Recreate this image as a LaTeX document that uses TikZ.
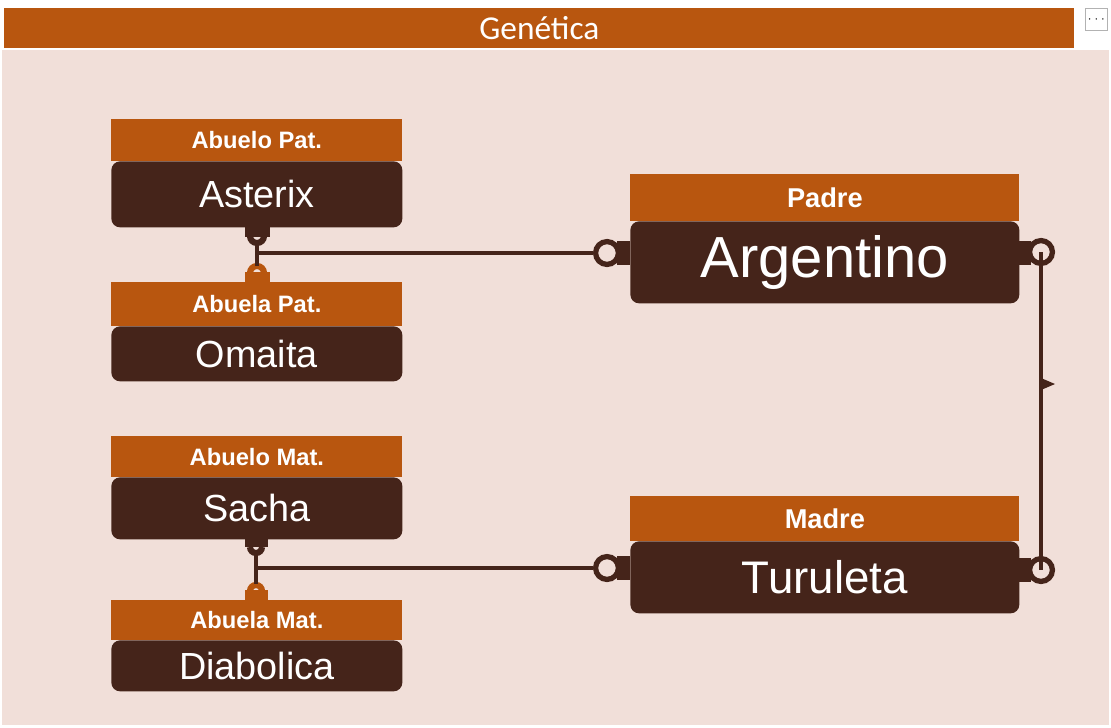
\documentclass[tikz,border=0pt]{standalone}
\usepackage{fontspec}
\setmainfont{Liberation Sans}
\newfontfamily\titlefont{Carlito}
\usetikzlibrary{arrows.meta}
\definecolor{Bg}{HTML}{F1DFD9}
\definecolor{Rust}{HTML}{B8560F}
\definecolor{Bark}{HTML}{45241A}
\tikzset{
  head/.style={fill=Rust, text=white, font=\bfseries\fontsize{13.5}{15}\selectfont, inner sep=0pt, anchor=north west},
  body/.style={fill=Bark, text=white, rounded corners=5pt, inner sep=0pt, anchor=north west},
  link/.style={draw=Bark, line width=2pt},
  ring/.style={draw=Bark, line width=3pt, fill=Bg, circle, minimum size=13pt, inner sep=0pt},
}
\begin{document}
\begin{tikzpicture}[x=0.02cm, y=-0.02cm]
  \useasboundingbox (0,0) rectangle (1111,727);
  \fill[white] (0,0) rectangle (1111,727);
  \fill[Bg] (2,50) rectangle (1109,725);
  \node[fill=Rust, text=white, font=\titlefont\fontsize{19}{22}\selectfont, minimum width=1070*0.02cm, minimum height=40*0.02cm, inner sep=0pt, anchor=north west] (title) at (4,8) {Genética};
  \node[draw=gray!60, fill=white, minimum width=22*0.02cm, minimum height=22*0.02cm, inner sep=0pt, anchor=north west, font=\scriptsize] (menu) at (1085,8) {$\cdots$};

  % abuelos paternos
  \node[body, minimum width=291*0.02cm, minimum height=66*0.02cm, font=\fontsize{21.5}{25}\selectfont] (asterix) at (111,161) {Asterix};
  \node[head, minimum width=291*0.02cm, minimum height=42*0.02cm] (abpat) at (111,119) {Abuelo Pat.};
  \node[body, minimum width=291*0.02cm, minimum height=55*0.02cm, font=\fontsize{21.5}{25}\selectfont] (omaita) at (111,326) {Omaita};
  \node[head, minimum width=291*0.02cm, minimum height=44*0.02cm] (abapat) at (111,282) {Abuela Pat.};

  % abuelos maternos
  \node[body, minimum width=291*0.02cm, minimum height=62*0.02cm, font=\fontsize{21.5}{25}\selectfont] (sacha) at (111,477) {Sacha};
  \node[head, minimum width=291*0.02cm, minimum height=41*0.02cm] (abmat) at (111,436) {Abuelo Mat.};
  \node[body, minimum width=291*0.02cm, minimum height=51*0.02cm, font=\fontsize{21.5}{25}\selectfont] (diabolica) at (111,640) {Diabolica};
  \node[head, minimum width=291*0.02cm, minimum height=40*0.02cm] (abamat) at (111,600) {Abuela Mat.};

  % padres
  \node[body, minimum width=389*0.02cm, minimum height=82*0.02cm, font=\fontsize{33}{38}\selectfont] (argentino) at (630,221) {Argentino};
  \node[head, minimum width=389*0.02cm, minimum height=47*0.02cm, font=\bfseries\fontsize{15.5}{18}\selectfont] (padre) at (630,174) {Padre};
  \node[body, minimum width=389*0.02cm, minimum height=72*0.02cm, font=\fontsize{26}{30}\selectfont] (turuleta) at (630,541) {Turuleta};
  \node[head, minimum width=389*0.02cm, minimum height=45*0.02cm, font=\bfseries\fontsize{15.5}{18}\selectfont] (madre) at (630,496) {Madre};

  % uniones
  \coordinate (jpat) at (257,253);
  \coordinate (jmat) at (257,568);
  \node[ring] (rpadre) at (607,253) {};
  \node[ring] (rmadre) at (607,568) {};
  \node[ring] (rarg) at (1041,252) {};
  \node[ring] (rtur) at (1041,570) {};
  \fill[Bark] (617,241) rectangle (630,265);
  \fill[Bark] (617,556) rectangle (630,580);
  \fill[Bark] (1019,241) rectangle (1031,265);
  \fill[Bark] (1019,558) rectangle (1031,582);

  \fill[Bark] (245,227) rectangle (270,237);
  \draw[Bark, line width=3.5pt] (250,236) arc[start angle=180, end angle=360, radius=0.14cm];
  \fill[Rust] (245,272) rectangle (270,282);
  \draw[Rust, line width=3.5pt] (250,273) arc[start angle=180, end angle=0, radius=0.14cm];
  \fill[Bark] (245,539) rectangle (268,547);
  \draw[Bark, line width=3.5pt] (250,547) arc[start angle=180, end angle=360, radius=0.12cm];
  \fill[Rust] (245,590) rectangle (268,600);
  \draw[Rust, line width=3.5pt] (250,591) arc[start angle=180, end angle=0, radius=0.12cm];
  \draw[Bark, line width=2pt] (257,240) -- (257,266);
  \draw[Bark, line width=2pt] (256,552) -- (256,584);

  \draw[link] (jpat) -- (rpadre);
  \draw[link] (jmat) -- (rmadre);
  \draw[link] (rarg.center) -- (rtur.center);
  \fill[Bark] (1041,378) -- (1055,384) -- (1041,390) -- cycle;
\end{tikzpicture}
\end{document}
